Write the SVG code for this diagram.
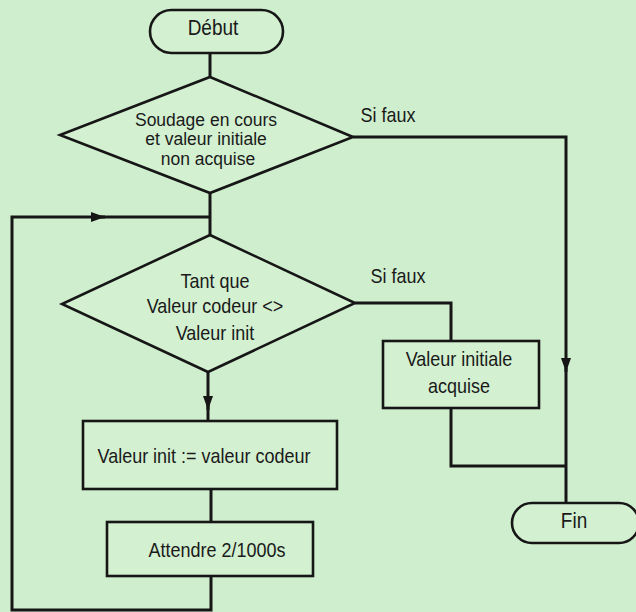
<svg xmlns="http://www.w3.org/2000/svg" width="636" height="612" viewBox="0 0 636 612">
<style>
.bg{fill:#cfeecd}
.box{fill:#d3f0d1;stroke:#161616;stroke-width:2.6}
.line{fill:none;stroke:#161616;stroke-width:3}
.t{font-family:"Liberation Sans",Arial,sans-serif;font-size:18px;fill:#1a1a1a;text-anchor:middle}
</style>
<defs>
<marker id="ah" markerUnits="userSpaceOnUse" viewBox="0 0 14 10" refX="14" refY="5" markerWidth="14" markerHeight="10" orient="auto">
<path d="M0,0 L14,5 L0,10 Z" fill="#161616"/>
</marker>
</defs>
<rect class="bg" x="0" y="0" width="636" height="612"/>
<g id="connectors">
<path class="line" d="M210,53 V77"/>
<path class="line" d="M353,137 H566 V372" marker-end="url(#ah)"/>
<path class="line" d="M566,368 V503"/>
<path class="line" d="M210,193 V235"/>
<path class="line" d="M211,576 V610 H12 V217 H105" marker-end="url(#ah)"/>
<path class="line" d="M100,217 H210"/>
<path class="line" d="M355,303 H451 V341"/>
<path class="line" d="M451,408 V466 H566"/>
<path class="line" d="M208,372 V410" marker-end="url(#ah)"/>
<path class="line" d="M208,405 V421"/>
<path class="line" d="M211,489 V522"/>
<text class="t" transform="translate(388,122) scale(1,1.15)">Si faux</text>
<text class="t" transform="translate(398,283) scale(1,1.15)">Si faux</text>
</g>
<g id="debut">
<rect class="box" x="150" y="10" width="133" height="43" rx="21.5"/>
<text class="t" style="font-size:19px" transform="translate(213,35) scale(1,1.15)">Début</text>
</g>
<g id="cond1">
<polygon class="box" points="210,77 353,137 210,193 60,135"/>
<text class="t" style="font-size:17.5px" x="206" y="125.5">Soudage en cours</text>
<text class="t" style="font-size:17.5px" x="206" y="145">et valeur initiale</text>
<text class="t" style="font-size:17.5px" x="208" y="164.5">non acquise</text>
</g>
<g id="cond2">
<polygon class="box" points="210,235 355,303 208,372 62,304"/>
<text class="t" transform="translate(215,288) scale(1,1.15)"><tspan x="0" y="0">Tant que</tspan><tspan x="0" dy="22">Valeur codeur &lt;&gt;</tspan><tspan x="0" dy="23">Valeur init</tspan></text>
</g>
<g id="acquise">
<rect class="box" x="383" y="341" width="156" height="67"/>
<text class="t" transform="translate(459,366) scale(1,1.15)"><tspan x="0" y="0">Valeur initiale</tspan><tspan x="0" dy="23.5">acquise</tspan></text>
</g>
<g id="affect">
<rect class="box" x="83" y="421" width="254" height="68"/>
<text class="t" transform="translate(204,463) scale(1,1.15)">Valeur init := valeur codeur</text>
</g>
<g id="attendre">
<rect class="box" x="107" y="522" width="206" height="54"/>
<text class="t" transform="translate(217,557) scale(1,1.15)">Attendre 2/1000s</text>
</g>
<g id="fin">
<rect class="box" x="512" y="503" width="127" height="40" rx="20"/>
<text class="t" style="font-size:19px" transform="translate(574,528) scale(1,1.15)">Fin</text>
</g>
</svg>
